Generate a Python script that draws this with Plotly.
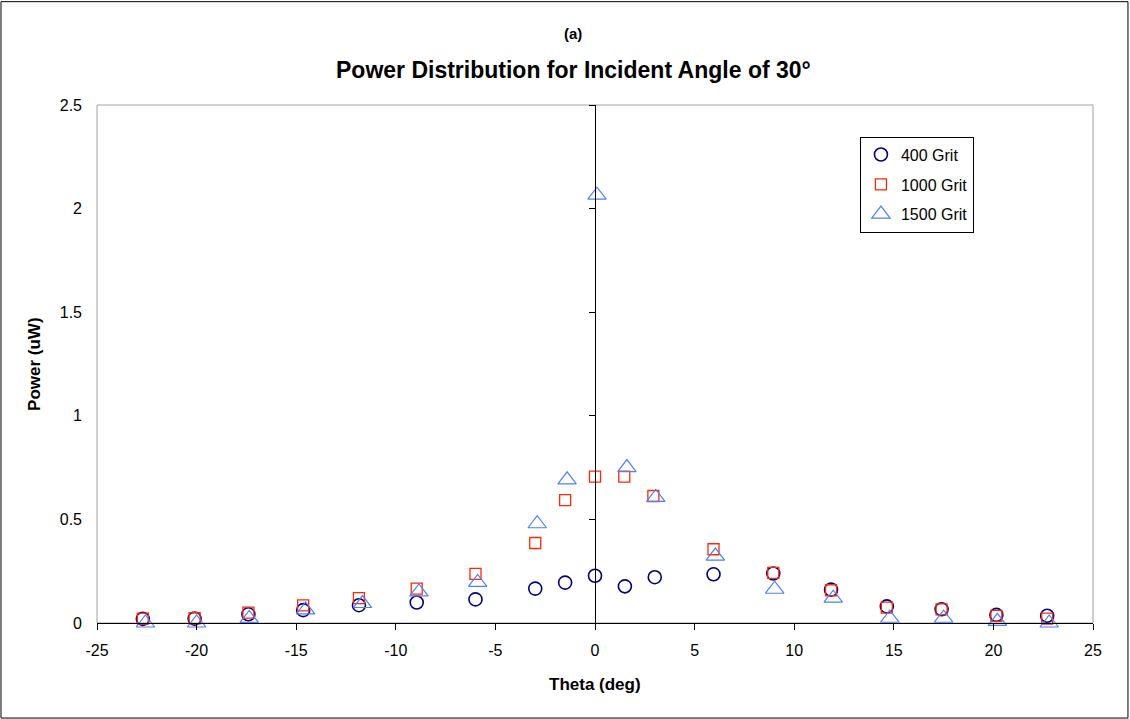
import plotly.graph_objects as go

# ---- data ----
theta_400 = [-22.7, -20.1, -17.4, -14.65, -11.85, -8.95, -6.0, -3.0, -1.5, 0.0,
             1.5, 3.0, 5.95, 8.95, 11.85, 14.65, 17.4, 20.15, 22.7]
power_400 = [0.020, 0.021, 0.042, 0.062, 0.086, 0.099, 0.114, 0.166, 0.195, 0.228,
             0.177, 0.221, 0.235, 0.239, 0.161, 0.080, 0.066, 0.039, 0.035]

theta_1000 = [-22.7, -20.1, -17.4, -14.65, -11.85, -8.95, -6.0, -3.0, -1.5, 0.0,
              1.47, 2.93, 5.95, 8.95, 11.85, 14.65, 17.4, 20.15, 22.7]
power_1000 = [0.021, 0.023, 0.050, 0.085, 0.120, 0.166, 0.237, 0.386, 0.593, 0.706,
              0.706, 0.613, 0.356, 0.242, 0.158, 0.074, 0.066, 0.034, 0.021]

theta_1500 = [-22.57, -20.0, -17.36, -14.53, -11.67, -8.84, -5.89, -2.9, -1.4, 0.1,
              1.6, 3.05, 6.04, 9.02, 11.96, 14.8, 17.5, 20.2, 22.8]
power_1500 = [0.0, 0.0, 0.022, 0.063, 0.094, 0.150, 0.196, 0.479, 0.691, 2.065,
              0.750, 0.606, 0.323, 0.163, 0.120, 0.023, 0.023, 0.008, 0.0]

x_tick_vals = [-25, -20, -15, -10, -5, 0, 5, 10, 15, 20, 25]
x_tick_text = ["-25", "-20", "-15", "-10", "-5", "0", "5", "10", "15", "20", "25"]
y_tick_vals = [0, 0.5, 1, 1.5, 2, 2.5]
y_tick_text = ["0", "0.5", "1", "1.5", "2", "2.5"]

series_names = ["400 Grit", "1000 Grit", "1500 Grit"]

FONT = "Liberation Sans, Arial, sans-serif"

fig = go.Figure()
fig.add_trace(go.Scatter(
    x=theta_400, y=power_400, mode="markers", name=series_names[0],
    legendgroup="a", cliponaxis=False,
    marker=dict(symbol="circle-open", size=13, color="#000080",
                line=dict(width=1.6, color="#000080"))))
fig.add_trace(go.Scatter(
    x=theta_1000, y=power_1000, mode="markers", name=series_names[1],
    legendgroup="b", cliponaxis=False,
    marker=dict(symbol="square-open", size=11, color="#FF2A00",
                line=dict(width=1.3, color="#FF2A00"))))
fig.add_trace(go.Scatter(
    x=theta_1500, y=power_1500, mode="markers", name=series_names[2],
    legendgroup="c", cliponaxis=False,
    marker=dict(symbol="triangle-up-open", size=16, color="#4F7FFF",
                line=dict(width=1.2, color="#4F7FFF"))))

fig.update_layout(
    width=1130, height=719,
    margin=dict(l=97, r=37, t=105, b=96),
    paper_bgcolor="white", plot_bgcolor="white",
    font=dict(family=FONT, size=15, color="black"),
    showlegend=True,
    legend=dict(x=0.766, y=0.939, xanchor="left", yanchor="top",
                bordercolor="black", borderwidth=1, bgcolor="white",
                font=dict(family=FONT, size=16, color="black"),
                tracegroupgap=6, itemwidth=30),
    xaxis=dict(range=[-25, 25], tickmode="array", tickvals=x_tick_vals,
               ticktext=x_tick_text, showgrid=False, zeroline=False,
               showline=True, linecolor="black", linewidth=1,
               ticks="outside", ticklen=6, tickcolor="black",
               ticklabelstandoff=7,
               tickfont=dict(family=FONT, size=16, color="black")),
    yaxis=dict(range=[0, 2.5], tickmode="array", tickvals=y_tick_vals,
               ticktext=y_tick_text, showgrid=False, zeroline=False,
               showline=False, ticks="", ticklabelstandoff=14,
               tickfont=dict(family=FONT, size=16, color="black")),
    yaxis2=dict(range=[0, 2.5], overlaying="y", anchor="free", position=0.5,
                side="left", tickmode="array", tickvals=y_tick_vals,
                showticklabels=False, showgrid=False, zeroline=False,
                showline=True, linecolor="black", linewidth=1,
                ticks="outside", ticklen=6, tickcolor="black"),
)

# invisible trace to keep the centre axis alive
fig.add_trace(go.Scatter(x=[0], y=[0], yaxis="y2", mode="markers",
                         marker=dict(opacity=0), showlegend=False,
                         hoverinfo="skip"))

# plot-area frame (grey) and chart frame (black)
fig.add_shape(type="rect", xref="paper", yref="paper", x0=0, x1=1, y0=0, y1=1,
              line=dict(color="#A0A0A0", width=1), layer="below")
fig.add_shape(type="rect", xref="paper", yref="paper",
              x0=-0.0964, x1=1.0351, y0=-0.1835, y1=1.1995,
              line=dict(color="black", width=1), layer="below")

# titles
fig.add_annotation(text="<b>(a)</b>", xref="paper", yref="paper",
                   x=0.478, y=1.1375, showarrow=False,
                   xanchor="center", yanchor="middle",
                   font=dict(family=FONT, size=15, color="black"))
fig.add_annotation(text="<b>Power Distribution for Incident Angle of 30°</b>",
                   xref="paper", yref="paper", x=0.478, y=1.0675,
                   showarrow=False, xanchor="center", yanchor="middle",
                   font=dict(family=FONT, size=23, color="black"))
fig.add_annotation(text="<b>Theta (deg)</b>", xref="paper", yref="paper",
                   x=0.5, y=-0.118, showarrow=False,
                   xanchor="center", yanchor="middle",
                   font=dict(family=FONT, size=17, color="black"))
fig.add_annotation(text="<b>Power (uW)</b>", xref="paper", yref="paper",
                   x=-0.0633, y=0.5, showarrow=False, textangle=-90,
                   xanchor="center", yanchor="middle",
                   font=dict(family=FONT, size=17, color="black"))

fig.write_html("out.html", config={"displayModeBar": False},
               post_script="document.body.style.margin='0px';")
